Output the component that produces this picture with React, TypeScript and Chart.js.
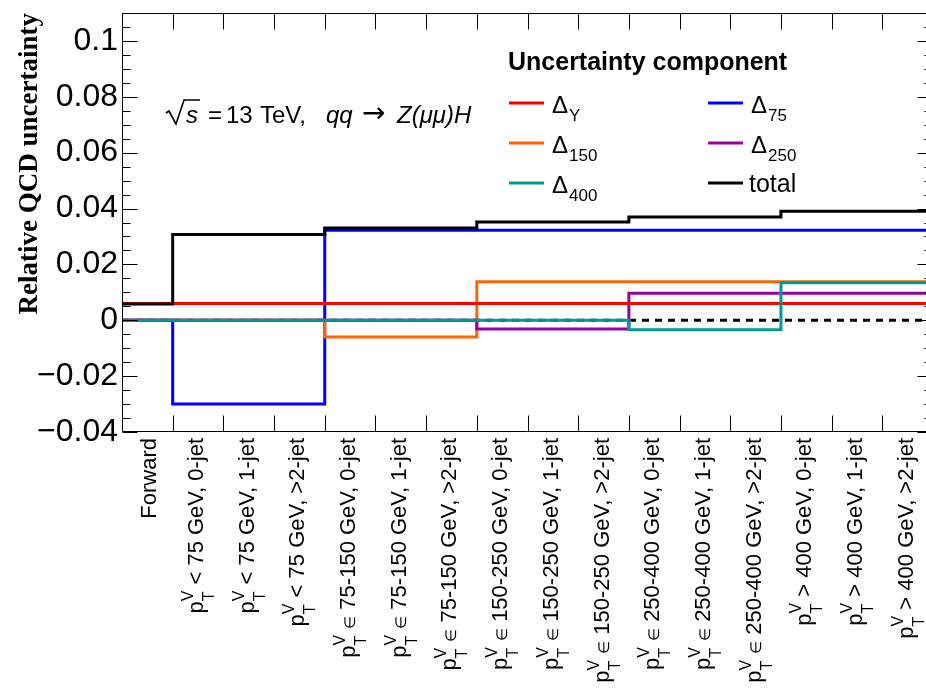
import React, { useEffect, useRef } from 'react';
import { Chart, registerables } from 'chart.js';

Chart.register(...registerables);

// ---------------- data ----------------
const CATEGORIES = [
  'Forward',
  'p_T^V < 75 GeV, 0-jet',
  'p_T^V < 75 GeV, 1-jet',
  'p_T^V < 75 GeV, >2-jet',
  'p_T^V ∈ 75-150 GeV, 0-jet',
  'p_T^V ∈ 75-150 GeV, 1-jet',
  'p_T^V ∈ 75-150 GeV, >2-jet',
  'p_T^V ∈ 150-250 GeV, 0-jet',
  'p_T^V ∈ 150-250 GeV, 1-jet',
  'p_T^V ∈ 150-250 GeV, >2-jet',
  'p_T^V ∈ 250-400 GeV, 0-jet',
  'p_T^V ∈ 250-400 GeV, 1-jet',
  'p_T^V ∈ 250-400 GeV, >2-jet',
  'p_T^V > 400 GeV, 0-jet',
  'p_T^V > 400 GeV, 1-jet',
  'p_T^V > 400 GeV, >2-jet',
];

const DELTA_Y = [0.006, 0.006, 0.006, 0.006, 0.006, 0.006, 0.006, 0.006, 0.006, 0.006, 0.006, 0.006, 0.006, 0.006, 0.006, 0.006];
const DELTA_75 = [0, -0.03, -0.03, -0.03, 0.0322, 0.0322, 0.0322, 0.0322, 0.0322, 0.0322, 0.0322, 0.0322, 0.0322, 0.0322, 0.0322, 0.0322];
const DELTA_150 = [0, 0, 0, 0, -0.006, -0.006, -0.006, 0.0138, 0.0138, 0.0138, 0.0138, 0.0138, 0.0138, 0.0138, 0.0138, 0.0138];
const DELTA_250 = [0, 0, 0, 0, 0, 0, 0, -0.0031, -0.0031, -0.0031, 0.0097, 0.0097, 0.0097, 0.0097, 0.0097, 0.0097];
const DELTA_400 = [0, 0, 0, 0, 0, 0, 0, 0, 0, 0, -0.0034, -0.0034, -0.0034, 0.0134, 0.0134, 0.0134];
const TOTAL = [0.0058, 0.0307, 0.0307, 0.0307, 0.033, 0.033, 0.033, 0.0352, 0.0352, 0.0352, 0.037, 0.037, 0.037, 0.039, 0.039, 0.039];
const ZERO_LINE = [0, 0, 0, 0, 0, 0, 0, 0, 0, 0, 0, 0, 0, 0, 0, 0];

const SERIES_NAMES = ['Δ_Y', 'Δ_75', 'Δ_150', 'Δ_250', 'Δ_400', 'total'];

const Y_TICKS = [-0.04, -0.02, 0, 0.02, 0.04, 0.06, 0.08, 0.1];
const Y_MIN = -0.04;
const Y_MAX = 0.11;
const Y_MINOR = 0.005;

const Y_TITLE = 'Relative QCD uncertainty';
const LEGEND_TITLE = 'Uncertainty component';

// ---------------- styles ----------------
const W = 945;
const H = 695;
const SANS = "'Liberation Sans', Arial, Helvetica, sans-serif";
const SERIF = "'Liberation Serif', 'Times New Roman', serif";
const COLORS: Record<string, string> = {
  'Δ_Y': '#ff0000',
  'Δ_75': '#0000ff',
  'Δ_150': '#ff6600',
  'Δ_250': '#990099',
  'Δ_400': '#009999',
  total: '#000000',
};

function toSteps(values: number[]) {
  const pts = values.map((v, i) => ({ x: i, y: v }));
  pts.push({ x: values.length, y: values[values.length - 1] });
  return pts;
}

function fmtTick(v: any) {
  const n = Number(v);
  if (Math.abs(n) < 1e-12) return '0';
  const s = String(Math.round(Math.abs(n) * 1000) / 1000);
  return (n < 0 ? '\u2212' : '') + s;
}

type Seg = { t: string; f: string; dy: number; stack?: { t: string; f: string; dy: number }[] };

function segWidth(ctx: CanvasRenderingContext2D, s: Seg) {
  if (s.stack) {
    let w = 0;
    s.stack.forEach((p) => {
      ctx.font = p.f;
      w = Math.max(w, ctx.measureText(p.t).width);
    });
    return w;
  }
  ctx.font = s.f;
  return ctx.measureText(s.t).width;
}

function drawSegs(ctx: CanvasRenderingContext2D, segs: Seg[], x0: number, y0: number) {
  let x = x0;
  segs.forEach((s) => {
    const w = segWidth(ctx, s);
    if (s.stack) {
      s.stack.forEach((p) => {
        ctx.font = p.f;
        ctx.fillText(p.t, x, y0 + p.dy);
      });
    } else {
      ctx.font = s.f;
      ctx.fillText(s.t, x, y0 + s.dy);
    }
    x += w;
  });
  return x;
}

const decorPlugin = {
  id: 'rootDecor',
  afterDatasetsDraw(chart: any) {
    const ctx = chart.ctx as CanvasRenderingContext2D;
    const ca = chart.chartArea;
    const xs = chart.scales.x;
    const ys = chart.scales.y;
    ctx.save();

    // frame
    ctx.strokeStyle = '#000';
    ctx.lineWidth = 1;
    ctx.setLineDash([]);
    const L = Math.round(ca.left) + 0.5;
    const R = Math.round(ca.right) - 0.5;
    const T = Math.round(ca.top) + 0.5;
    const B = Math.round(ca.bottom) - 0.5;
    ctx.beginPath();
    ctx.rect(L, T, R - L, B - T);
    for (let i = 1; i < CATEGORIES.length; i++) {
      const px = Math.round(xs.getPixelForValue(i)) + 0.5;
      ctx.moveTo(px, B);
      ctx.lineTo(px, B - 16);
      ctx.moveTo(px, T);
      ctx.lineTo(px, T + 16);
    }
    const nMinor = Math.round((Y_MAX - Y_MIN) / Y_MINOR);
    for (let k = 0; k <= nMinor; k++) {
      const v = Y_MIN + k * Y_MINOR;
      const major = Y_TICKS.some((t) => Math.abs(t - v) < 1e-9);
      const len = major ? 15 : 8;
      const py = Math.round(ys.getPixelForValue(v)) + 0.5;
      ctx.moveTo(L, py);
      ctx.lineTo(L + len, py);
      ctx.moveTo(R, py);
      ctx.lineTo(R - len, py);
    }
    ctx.stroke();

    ctx.fillStyle = '#000';
    ctx.textBaseline = 'alphabetic';
    ctx.textAlign = 'left';

    // y title
    ctx.save();
    ctx.translate(37, ca.top);
    ctx.rotate(-Math.PI / 2);
    ctx.font = `bold 27px ${SERIF}`;
    ctx.textAlign = 'right';
    ctx.fillText(Y_TITLE, 0, 0);
    ctx.restore();

    // x labels
    const MAIN = `22px ${SANS}`;
    const SCRIPT = `16px ${SANS}`;
    const SMALL = `15px ${SANS}`;
    CATEGORIES.forEach((lab, i) => {
      const cx = xs.getPixelForValue(i + 0.5);
      let segs: Seg[];
      let base: number;
      if (lab.startsWith('p_T^V')) {
        const rest = lab.slice(5);
        segs = [
          { t: 'p', f: MAIN, dy: 0 },
          { t: '', f: SCRIPT, dy: 0, stack: [{ t: 'V', f: SCRIPT, dy: -10 }, { t: 'T', f: SCRIPT, dy: 11 }] },
        ];
        if (rest.includes('∈')) {
          const parts = rest.split('∈');
          segs.push({ t: parts[0], f: MAIN, dy: 0 });
          segs.push({ t: '∈', f: SMALL, dy: 0 });
          segs.push({ t: parts[1], f: MAIN, dy: 0 });
        } else {
          segs.push({ t: rest, f: MAIN, dy: 0 });
        }
        base = 5;
      } else {
        segs = [{ t: lab, f: MAIN, dy: 0 }];
        base = 8.5;
      }
      let total = 0;
      segs.forEach((s) => (total += segWidth(ctx, s)));
      ctx.save();
      ctx.translate(cx, ca.bottom + 6);
      ctx.rotate(-Math.PI / 2);
      drawSegs(ctx, segs, -total, base);
      ctx.restore();
    });

    // annotation: sqrt(s) = 13 TeV, qq -> Z(mumu)H
    const AF = `24px ${SANS}`;
    const AI = `italic 24px ${SANS}`;
    const by = 123;
    ctx.beginPath();
    ctx.lineWidth = 1.6;
    ctx.strokeStyle = '#000';
    ctx.moveTo(166, 113);
    ctx.lineTo(169, 111);
    ctx.lineTo(176, 124);
    ctx.lineTo(184, 100);
    ctx.lineTo(200, 100);
    ctx.stroke();
    ctx.font = AI;
    ctx.fillText('s', 186, by);
    ctx.font = AF;
    ctx.fillText('=', 208, by);
    ctx.fillText('13', 226, by);
    ctx.fillText('TeV,', 260, by);
    ctx.font = AI;
    ctx.fillText('qq', 326, by);
    ctx.font = `28px 'DejaVu Sans', ${SANS}`;
    ctx.fillText('\u2192', 362, by - 1);
    ctx.font = AI;
    ctx.fillText('Z(\u03BC\u03BC)H', 397, by);

    // legend
    ctx.font = `bold 25px ${SANS}`;
    ctx.fillText(LEGEND_TITLE, 508, 70);
    const colX = [509, 708];
    const rowY = [103, 143, 183];
    SERIES_NAMES.forEach((name, k) => {
      const r = Math.floor(k / 2);
      const c = k % 2;
      const x = colX[c];
      const y = rowY[r];
      ctx.beginPath();
      ctx.strokeStyle = COLORS[name];
      ctx.lineWidth = 3;
      ctx.moveTo(x, y);
      ctx.lineTo(x + 35, y);
      ctx.stroke();
      ctx.fillStyle = '#000';
      if (name.includes('_')) {
        const [main, sub] = name.split('_');
        ctx.font = `24px ${SANS}`;
        ctx.fillText(main, x + 43, y + 10);
        const w = ctx.measureText(main).width;
        ctx.font = `17px ${SANS}`;
        ctx.fillText(sub, x + 43 + w + 1, y + 18);
      } else {
        ctx.font = `25px ${SANS}`;
        ctx.fillText(name, x + 41, y + 9);
      }
    });

    ctx.restore();
  },
};

export default function App() {
  const ref = useRef<HTMLCanvasElement | null>(null);
  useEffect(() => {
    const canvas = ref.current;
    if (!canvas) return;
    const mk = (name: string, values: number[]) => ({
      label: name,
      data: toSteps(values),
      borderColor: COLORS[name],
      backgroundColor: COLORS[name],
      borderWidth: 3,
      stepped: 'before' as const,
      pointRadius: 0,
      fill: false,
      tension: 0,
      borderCapStyle: 'butt' as const,
      borderJoinStyle: 'miter' as const,
    });
    // index 0 is drawn on top
    const datasets: any[] = [
      mk('total', TOTAL),
      mk('Δ_400', DELTA_400),
      mk('Δ_Y', DELTA_Y),
      mk('Δ_250', DELTA_250),
      mk('Δ_150', DELTA_150),
      mk('Δ_75', DELTA_75),
      {
        label: 'zero',
        data: toSteps(ZERO_LINE),
        borderColor: '#000',
        borderWidth: 3,
        borderDash: [7, 6],
        stepped: 'before',
        pointRadius: 0,
        fill: false,
      },
    ];
    const chart = new Chart(canvas, {
      type: 'line',
      data: { datasets },
      options: {
        responsive: false,
        animation: false,
        devicePixelRatio: 1,
        events: [],
        layout: { padding: { left: 0, top: 13, right: W - 933, bottom: 0 } },
        plugins: {
          legend: { display: false },
          tooltip: { enabled: false },
          title: { display: false },
        },
        scales: {
          x: {
            type: 'linear',
            min: 0,
            max: CATEGORIES.length,
            grid: { display: false },
            border: { display: false },
            ticks: { display: false },
            afterFit: (s: any) => {
              s.height = H - 432;
              s.paddingLeft = 0;
              s.paddingRight = 0;
            },
          },
          y: {
            type: 'linear',
            min: Y_MIN,
            max: Y_MAX,
            grid: { display: false, drawTicks: false },
            border: { display: false },
            afterBuildTicks: (s: any) => {
              s.ticks = Y_TICKS.map((v) => ({ value: v }));
            },
            ticks: {
              font: { family: SANS, size: 32 },
              color: '#000',
              padding: 4,
              autoSkip: false,
              callback: (v: any) => fmtTick(v),
            },
            afterFit: (s: any) => {
              s.width = 122;
              s.paddingTop = 0;
              s.paddingBottom = 0;
            },
          },
        },
      } as any,
      plugins: [decorPlugin],
    });
    return () => chart.destroy();
  }, []);

  return (
    <div style={{ position: 'fixed', left: 0, top: 0, width: 926, height: 695, overflow: 'hidden', background: '#fff' }}>
      <canvas ref={ref} width={W} height={H} style={{ display: 'block', width: W, height: H }} />
    </div>
  );
}
